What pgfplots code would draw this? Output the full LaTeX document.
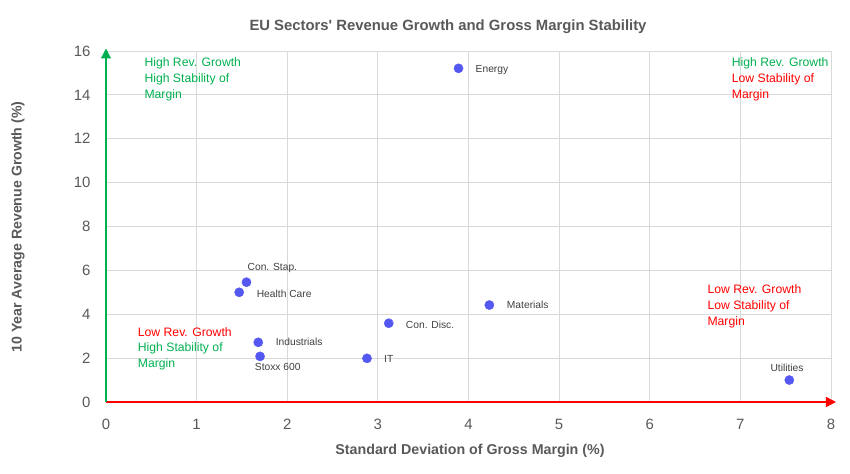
\documentclass[border=0pt]{standalone}
\usepackage{pgfplots}
\pgfplotsset{compat=1.18}
\usepackage{pgfplotstable}
\usepackage{fontspec}
\setmainfont{Liberation Sans}
\usetikzlibrary{arrows.meta}

\definecolor{tickgray}{RGB}{89,89,89}
\definecolor{labgray}{RGB}{64,64,64}
\definecolor{gridgray}{RGB}{217,217,217}
\definecolor{dotblue}{RGB}{84,88,240}
\definecolor{qgreen}{RGB}{0,176,80}
\definecolor{qred}{RGB}{255,0,0}

% sector, std. dev. of gross margin (%), 10y avg revenue growth (%), label offset (bp)
\pgfplotstableread[col sep=comma]{
x,y,label,dx,dy
3.89,15.21,Energy,17,-1.5
1.55,5.46,Con. Stap.,1,14
1.47,5.00,Health Care,17.4,-1.4
1.68,2.72,Industrials,17.4,0
1.70,2.08,Stoxx 600,-5.3,-11
2.88,1.99,IT,17,-1
3.12,3.59,Con. Disc.,17,-1.4
4.23,4.42,Materials,17.4,0
7.54,1.00,Utilities,-19,12.3
}\sectors

\begin{document}
\begin{tikzpicture}
\useasboundingbox (-106bp,-72bp) rectangle (744bp,402bp);
\begin{axis}[
  at={(0,0)}, anchor=south west,
  scale only axis, width=725bp, height=351bp,
  xmin=0, xmax=8, ymin=0, ymax=16,
  enlargelimits=false,
  xtick={0,1,...,8}, ytick={0,2,...,16},
  grid=major, grid style={gridgray, line width=0.8pt},
  axis lines=left,
  x axis line style={qred, line width=1.4pt, shorten >=-5bp, -{Triangle[length=10bp,width=10bp]}},
  y axis line style={qgreen, line width=1.2pt, shorten >=-2.5bp, -{Triangle[length=10bp,width=10bp]}},
  major tick length=0pt,
  /pgf/number format/assume math mode=true,
  tick label style={text=tickgray, font=\fontsize{15}{18}\selectfont, inner sep=0pt},
  xticklabel style={anchor=north, yshift=-17.3bp},
  yticklabel style={anchor=east, xshift=-15.3bp},
  clip=false,
]
\addplot[
  only marks, mark=*, mark size=4.6bp,
  mark options={draw=dotblue, fill=dotblue},
  visualization depends on={\thisrow{dx} \as \mydx},
  visualization depends on={\thisrow{dy} \as \mydy},
  point meta=explicit symbolic,
  nodes near coords,
  every node near coord/.append style={anchor=west, xshift=\mydx bp, yshift=\mydy bp,
    inner sep=0pt, text=labgray, font=\fontsize{10.3}{12}\selectfont},
] table[x=x, y=y, meta=label] {\sectors};
\end{axis}

% title and axis titles
\node[text=tickgray, font=\bfseries\fontsize{14.9}{17}\selectfont] at (342bp,375bp)
  {EU Sectors\textquotesingle\ Revenue Growth and Gross Margin Stability};
\node[text=tickgray, font=\bfseries\fontsize{14.3}{17}\selectfont] at (364bp,-49bp)
  {Standard Deviation of Gross Margin (\%)};
\node[text=tickgray, rotate=90, font=\bfseries\fontsize{14.2}{17}\selectfont] at (-88bp,175bp)
  {10 Year Average Revenue Growth (\%)};

% quadrant captions
\begin{scope}[every node/.style={anchor=base west, inner sep=0pt, font=\fontsize{12.25}{15}\selectfont}]
  \node[text=qgreen] at (38.3bp,335bp) {High Rev. Growth};
  \node[text=qgreen] at (38.3bp,319.3bp) {High Stability of};
  \node[text=qgreen] at (38.3bp,303.6bp) {Margin};

  \node[text=qgreen] at (625.7bp,335bp) {High Rev. Growth};
  \node[text=qred] at (625.7bp,319.3bp) {Low Stability of};
  \node[text=qred] at (625.7bp,303.6bp) {Margin};

  \node[text=qred] at (31.7bp,65.9bp) {Low Rev. Growth};
  \node[text=qgreen] at (31.7bp,50.1bp) {High Stability of};
  \node[text=qgreen] at (31.7bp,34.3bp) {Margin};

  \node[text=qred] at (601.3bp,108.9bp) {Low Rev. Growth};
  \node[text=qred] at (601.3bp,92.9bp) {Low Stability of};
  \node[text=qred] at (601.3bp,76.9bp) {Margin};
\end{scope}
\end{tikzpicture}
\end{document}
